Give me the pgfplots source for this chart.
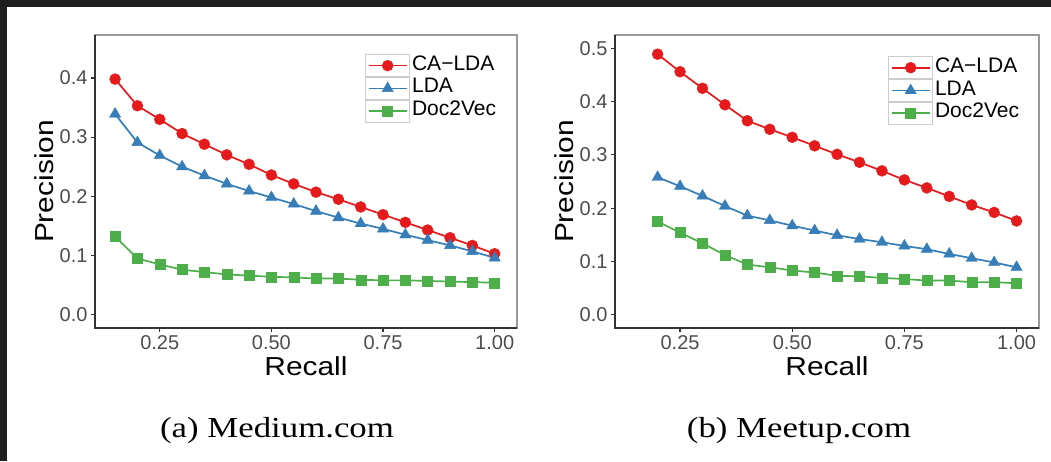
\documentclass[border=0pt]{standalone}
\usepackage{fontspec}
\setmainfont{Liberation Sans}
\newfontfamily\capfont[FakeStretch=1.2]{Liberation Serif}
\newfontfamily\titlefont[FakeStretch=1.15]{Liberation Sans}
\usepackage{pgfplots}
\pgfplotsset{compat=1.18}

\definecolor{cared}{HTML}{E41A1C}
\definecolor{ldablue}{HTML}{377EB8}
\definecolor{dvgreen}{HTML}{4DAF4A}
\definecolor{axisdark}{HTML}{333333}
\definecolor{boxgrey}{HTML}{9A9A9A}
\definecolor{ticktext}{HTML}{4D4D4D}
\definecolor{framedark}{HTML}{1F1F1F}

\pgfplotsset{
  prstyle/.style={
    scale only axis, height=293pt,
    xmin=0.105, xmax=1.05,
    xtick={0.25,0.5,0.75,1}, xticklabels={0.25,0.50,0.75,1.00},
    tick align=outside, xtick pos=bottom, ytick pos=left,
    major tick length=4pt,
    tick style={axisdark, line width=1.2pt},
    axis line style={boxgrey, line width=1.2pt},
    ticklabel style={font=\fontsize{20}{24}\selectfont, text=ticktext},
    /pgf/number format/assume math mode=true,
    yticklabel style={/pgf/number format/fixed, /pgf/number format/fixed zerofill, /pgf/number format/precision=1},
    xlabel=Recall, ylabel=Precision,
    label style={font=\titlefont\fontsize{26}{30}\selectfont},
    xlabel style={at={([yshift=-47pt]axis description cs:0.5,0)}, anchor=base},
    ylabel style={at={([xshift=-42pt]axis description cs:0,0.5)}, anchor=base},
    clip=false,
    legend cell align=left,
    legend style={draw=none, fill=none, anchor=north west,
      font=\fontsize{21}{22}\selectfont, inner sep=0pt, row sep=0pt, column sep=2pt,
      nodes={inner sep=0pt, text height=15.5pt, text depth=6.5pt}},
    legend image code/.code={
      \draw[black!20, line width=0.8pt] (0pt,-11pt) rectangle (44pt,11pt);
      \draw[mark repeat=2, mark phase=2, ##1] plot coordinates {(3pt,0pt) (22pt,0pt) (41pt,0pt)};
    },
    after end axis/.code={
      \draw[axisdark, line width=1.2pt] (rel axis cs:0,1) -- (rel axis cs:0,0) -- (rel axis cs:1,0);
    },
  },
  caplot/.style={cared, line width=1.7pt, mark=*, mark size=5.5pt, mark options={solid, line width=0.4pt}},
  ldaplot/.style={ldablue, line width=1.7pt, mark=triangle*, mark size=6.5pt, mark options={solid, line width=0.4pt}},
  dvplot/.style={dvgreen, line width=1.7pt, mark=square*, mark size=5pt, mark options={solid, line width=0.4pt}},
}

\begin{document}
\begin{tikzpicture}[x=1pt, y=1pt]
\useasboundingbox (0,0) rectangle (1051,461);
\fill[white] (0,0) rectangle (1051,461);
\fill[framedark] (0,454) rectangle (1051,461);
\fill[framedark] (0,0) rectangle (7,461);

% (a) Medium.com
\begin{axis}[prstyle, at={(95pt,133pt)}, anchor=south west, width=422pt,
  ymin=-0.0225, ymax=0.4725, ytick={0,0.1,0.2,0.3,0.4},
  legend style={at={(0.64,0.935)}}]
\addplot[caplot] coordinates {
 (0.15,0.398) (0.20,0.353) (0.25,0.330) (0.30,0.306) (0.35,0.288) (0.40,0.270)
 (0.45,0.254) (0.50,0.236) (0.55,0.221) (0.60,0.207) (0.65,0.195) (0.70,0.182)
 (0.75,0.169) (0.80,0.156) (0.85,0.143) (0.90,0.130) (0.95,0.117) (1.00,0.103)};
\addlegendentry{CA−LDA}
\addplot[ldaplot] coordinates {
 (0.15,0.339) (0.20,0.291) (0.25,0.269) (0.30,0.250) (0.35,0.235) (0.40,0.221)
 (0.45,0.209) (0.50,0.198) (0.55,0.187) (0.60,0.175) (0.65,0.164) (0.70,0.154)
 (0.75,0.145) (0.80,0.135) (0.85,0.126) (0.90,0.117) (0.95,0.107) (1.00,0.096)};
\addlegendentry{LDA}
\addplot[dvplot] coordinates {
 (0.15,0.132) (0.20,0.095) (0.25,0.085) (0.30,0.076) (0.35,0.072) (0.40,0.068)
 (0.45,0.066) (0.50,0.064) (0.55,0.063) (0.60,0.061) (0.65,0.061) (0.70,0.059)
 (0.75,0.058) (0.80,0.058) (0.85,0.057) (0.90,0.056) (0.95,0.055) (1.00,0.054)};
\addlegendentry{Doc2Vec}
\end{axis}

% (b) Meetup.com
\begin{axis}[prstyle, at={(615pt,133pt)}, anchor=south west, width=424pt,
  ymin=-0.025, ymax=0.525, ytick={0,0.1,0.2,0.3,0.4,0.5},
  legend style={at={(0.644,0.928)}}]
\addplot[caplot] coordinates {
 (0.20,0.489) (0.25,0.456) (0.30,0.425) (0.35,0.394) (0.40,0.364) (0.45,0.348)
 (0.50,0.333) (0.55,0.317) (0.60,0.301) (0.65,0.286) (0.70,0.270) (0.75,0.253)
 (0.80,0.238) (0.85,0.222) (0.90,0.206) (0.95,0.192) (1.00,0.176)};
\addlegendentry{CA−LDA}
\addplot[ldaplot] coordinates {
 (0.20,0.258) (0.25,0.241) (0.30,0.223) (0.35,0.204) (0.40,0.186) (0.45,0.177)
 (0.50,0.167) (0.55,0.158) (0.60,0.149) (0.65,0.142) (0.70,0.136) (0.75,0.129)
 (0.80,0.123) (0.85,0.114) (0.90,0.106) (0.95,0.098) (1.00,0.089)};
\addlegendentry{LDA}
\addplot[dvplot] coordinates {
 (0.20,0.175) (0.25,0.154) (0.30,0.134) (0.35,0.112) (0.40,0.094) (0.45,0.089)
 (0.50,0.083) (0.55,0.079) (0.60,0.073) (0.65,0.072) (0.70,0.069) (0.75,0.067)
 (0.80,0.064) (0.85,0.064) (0.90,0.061) (0.95,0.061) (1.00,0.059)};
\addlegendentry{Doc2Vec}
\end{axis}

\node[anchor=base, font=\capfont\fontsize{29}{32}\selectfont] at (277,24) {(a) Medium.com};
\node[anchor=base, font=\capfont\fontsize{29}{32}\selectfont] at (799,24) {(b) Meetup.com};
\end{tikzpicture}
\end{document}
